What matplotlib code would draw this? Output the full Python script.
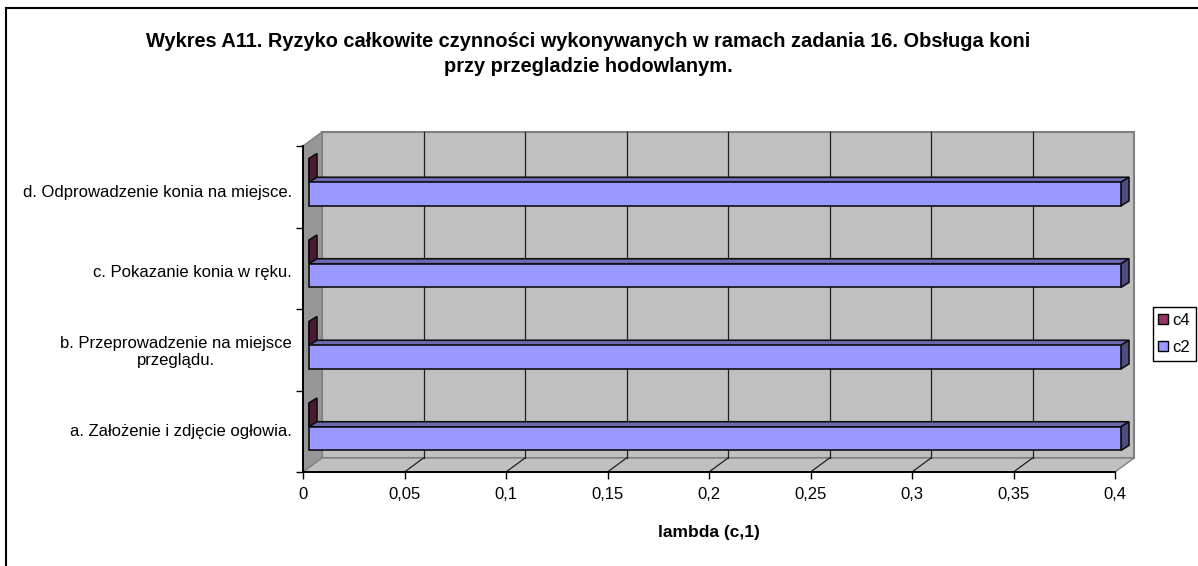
import matplotlib
matplotlib.use("Agg")
from matplotlib import pyplot as plt
from matplotlib.patches import Polygon, Patch
from matplotlib.transforms import Affine2D

plt.rcParams['font.family'] = ['Liberation Sans', 'DejaVu Sans']

title = "Wykres A11. Ryzyko całkowite czynności wykonywanych w ramach zadania 16. Obsługa koni\nprzy przegladzie hodowlanym."
categories = ["a. Założenie i zdjęcie ogłowia.",
              "b. Przeprowadzenie na miejsce\nprzeglądu.",
              "c. Pokazanie konia w ręku.",
              "d. Odprowadzenie konia na miejsce."]
c2 = [0.4, 0.4, 0.4, 0.4]
c4 = [0, 0, 0, 0]
x_ticks = [0, 0.05, 0.1, 0.15, 0.2, 0.25, 0.3, 0.35, 0.4]
x_labels = ["0", "0,05", "0,1", "0,15", "0,2", "0,25", "0,3", "0,35", "0,4"]
xlabel = "lambda (c,1)"

W, H = 1198, 566
fig = plt.figure(figsize=(W / 100, H / 100), dpi=100)
ax = fig.add_axes([303 / W, 1 - 472 / H, 812 / W, 326 / H])
ax.set_xlim(0, 0.4)
ax.set_ylim(0, 4)
ax.patch.set_visible(False)


# data position plus a shift in pixels, used for the fake 3d depth
def shifted(dx, dy):
    return ax.transData + Affine2D().translate(dx, dy)


def poly(points, transform, face, edge, lw=1.0, z=2):
    ax.add_patch(Polygon(points, closed=True, transform=transform, facecolor=face,
                         edgecolor=edge, linewidth=lw, zorder=z, clip_on=False))


# parallelogram going back from the segment p-q
def extrude(p, q, base, dx, dy, face, edge, lw=1.0, z=2):
    a = base.transform(p)
    b = base.transform(q)
    poly([a, b, b + (dx, dy), a + (dx, dy)], Affine2D(), face, edge, lw, z)


DX, DY = 19, 14  # wall depth

# back wall, side wall, floor
poly([(0, 0), (0.4, 0), (0.4, 4), (0, 4)], shifted(DX, DY), "#c0c0c0", "#808080", 1.5, 1)
extrude((0, 0), (0, 4), ax.transData, DX, DY, "#969696", "#808080", 1.0, 1)
extrude((0, 0), (0.4, 0), ax.transData, DX, DY, "#c0c0c0", "#808080", 1.0, 1)

# gridlines on wall and floor
for t in x_ticks[1:-1]:
    ax.plot([t, t], [0, 4], color="#202020", lw=0.9, transform=shifted(DX, DY), zorder=1.5, clip_on=False)
    p = ax.transData.transform((t, 0))
    ax.plot([p[0], p[0] + DX], [p[1], p[1] + DY], color="#202020", lw=0.9,
            transform=Affine2D(), zorder=1.5, clip_on=False)

# bars, front face starts 6px into the depth, bar depth is 8x5 px
BX, BY = 6, 4.5
BD, BE = 8, 5
bar_h = 0.29
base = shifted(BX, BY)


def bar3d(v, y0, front, top, right):
    extrude((0, y0 + bar_h), (v, y0 + bar_h), base, BD, BE, top, "#101010", 1.2, 3)
    extrude((v, y0), (v, y0 + bar_h), base, BD, BE, right, "#101010", 1.2, 3)
    poly([(0, y0), (v, y0), (v, y0 + bar_h), (0, y0 + bar_h)], base, front, "#101010", 1.2, 3.5)


for i in range(len(categories)):
    bar3d(c4[i], i + 0.5, "#993366", "#7a2951", "#4d1a33")
    bar3d(c2[i], i + 0.21, "#9999ff", "#6b6bb3", "#4d4d80")

# axes
for s in ["top", "right"]:
    ax.spines[s].set_visible(False)
for s in ["left", "bottom"]:
    ax.spines[s].set_linewidth(1.4)
    ax.spines[s].set_zorder(6)
ax.set_xticks(x_ticks)
ax.set_xticklabels(x_labels, fontsize=12)
ax.set_yticks(range(5))
ax.set_yticklabels([])
ax.tick_params(axis="x", length=5, width=1, pad=6)
ax.tick_params(axis="y", length=5, width=1)
ax.set_xlabel(xlabel, fontsize=12.5, fontweight="bold", labelpad=16)

for i, cat in enumerate(categories):
    fig.text(292 / W, 1 - (431.5 - 79.5 * i) / H, cat, ha="right", va="center",
             multialignment="center", fontsize=12)

fig.text(588 / W, 1 - 54 / H, title, ha="center", va="center", fontsize=14.4,
         fontweight="bold", linespacing=1.35)

# chart frame, only top and left show
fig.add_artist(plt.Line2D([6 / W, 6 / W], [0, 1 - 8 / H], color="black", lw=1.5))
fig.add_artist(plt.Line2D([6 / W, 1], [1 - 8 / H, 1 - 8 / H], color="black", lw=1.5))

handles = [Patch(facecolor="#993366", edgecolor="black", label="c4"),
           Patch(facecolor="#9999ff", edgecolor="black", label="c2")]
fig.legend(handles=handles, loc="center left", bbox_to_anchor=(1152.5 / W, 1 - 334 / H), fontsize=12,
           fancybox=False, edgecolor="black", framealpha=1, handlelength=0.55, handleheight=0.55,
           handletextpad=0.3, borderpad=0.35, labelspacing=0.75, borderaxespad=0)

fig.savefig("out.png", dpi=100)
